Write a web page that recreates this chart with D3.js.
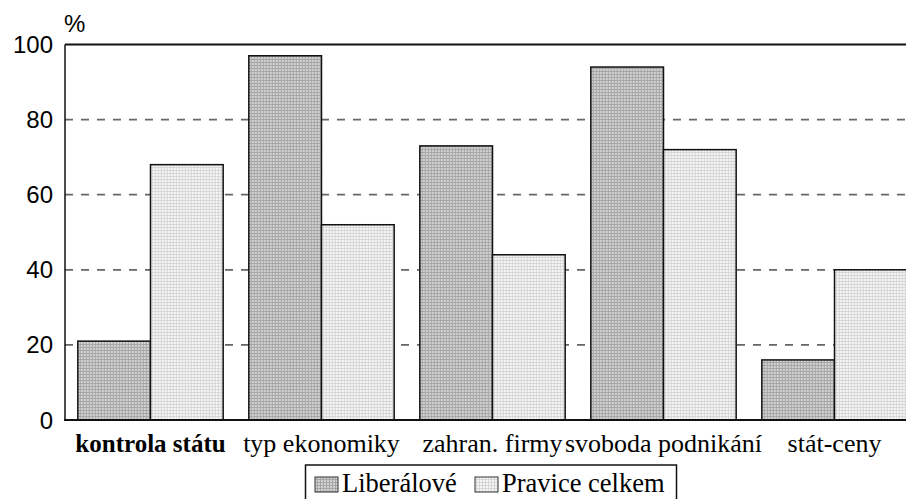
<!DOCTYPE html>
<html><head><meta charset="utf-8">
<script src="https://cdn.jsdelivr.net/npm/d3@7"></script>
<style>body{margin:0;background:#fff}svg{display:block}</style>
</head><body>
<script>
const categories = ["kontrola státu","typ ekonomiky","zahran. firmy","svoboda podnikání","stát-ceny"];
const seriesNames = ["Liberálové","Pravice celkem"];
const liberalove = [21,97,73,94,16];
const pravice = [68,52,44,72,40];
const yTicks = [0,20,40,60,80,100];

const SERIF="Liberation Serif";
const SANS="Liberation Sans";
const W=906,H=499;
const svg=d3.select("body").append("svg").attr("width",W).attr("height",H);
const defs=svg.append("defs");
function pat(id,bg,dot){
  const p=defs.append("pattern").attr("id",id).attr("width",3).attr("height",3).attr("patternUnits","userSpaceOnUse");
  p.append("rect").attr("width",3).attr("height",3).attr("fill",bg);
  p.append("rect").attr("width",2).attr("height",2).attr("fill",dot);
}
pat("p0","#a6a6a6","#d2d2d2");
pat("p1","#d6d6d6","#f6f6f6");
const fills=["url(#p0)","url(#p1)"];

const left=65, step=171;
const x=d3.scaleBand().domain(categories).range([left,left+5*step]).paddingInner(0.15).paddingOuter(0.075);
const xs=d3.scaleBand().domain(seriesNames).range([0,x.bandwidth()]);
const y=d3.scaleLinear().domain([0,100]).range([420,44.5]);

// gridlines
svg.append("g").selectAll("line").data(yTicks.filter(t=>t>0&&t<100)).join("line")
  .attr("x1",left).attr("x2",W).attr("y1",d=>y(d)).attr("y2",d=>y(d))
  .attr("stroke","#666").attr("stroke-width",1.8).attr("stroke-dasharray","8,8");
svg.append("line").attr("x1",left).attr("x2",W).attr("y1",y(100)).attr("y2",y(100)).attr("stroke","#111").attr("stroke-width",2);

// bars
const data=categories.map((c,i)=>({c,vals:[liberalove[i],pravice[i]]}));
const g=svg.append("g").selectAll("g").data(data).join("g").attr("transform",d=>`translate(${x(d.c)},0)`);
g.selectAll("rect").data(d=>d.vals.map((v,j)=>({v,s:seriesNames[j],j}))).join("rect")
  .attr("x",d=>xs(d.s)).attr("width",xs.bandwidth())
  .attr("y",d=>y(d.v)).attr("height",d=>y(0)-y(d.v))
  .attr("fill",d=>fills[d.j]).attr("stroke","#111").attr("stroke-width",1.5);

// axes lines
svg.append("line").attr("x1",left).attr("x2",left).attr("y1",y(100)).attr("y2",y(0)).attr("stroke","#111").attr("stroke-width",1.5);
svg.append("line").attr("x1",left-1).attr("x2",W).attr("y1",y(0)).attr("y2",y(0)).attr("stroke","#111").attr("stroke-width",2);

// y labels
svg.append("g").selectAll("text").data(yTicks).join("text")
  .attr("x",53).attr("y",d=>y(d)+8.5).attr("text-anchor","end")
  .style("font-family",SANS).style("font-size","24px").attr("fill","#000").text(d=>d);
svg.append("text").attr("x",64).attr("y",32).style("font-family",SANS).style("font-size","24px").text("%");

// category labels
svg.append("g").selectAll("text").data(categories).join("text")
  .attr("x",d=>x(d)+x.bandwidth()/2).attr("y",451.5).attr("text-anchor","middle")
  .style("font-family",SERIF)
  .style("font-size",(d,i)=>i===0?"25px":"26px").style("font-weight",(d,i)=>i===0?"bold":"normal").text(d=>d);

// legend
const lg=svg.append("g");
lg.append("rect").attr("x",305.5).attr("y",465).attr("width",371).attr("height",50).attr("fill","#fff").attr("stroke","#111").attr("stroke-width",1.5);
const lx=[315,475];
seriesNames.forEach((s,j)=>{
  lg.append("rect").attr("x",lx[j]).attr("y",477).attr("width",23).attr("height",15).attr("fill",fills[j]).attr("stroke","#333").attr("stroke-width",1);
  lg.append("text").attr("x",lx[j]+27).attr("y",491.5).style("font-family",SERIF).style("font-size","26.5px").text(s);
});
</script>
</body></html>
